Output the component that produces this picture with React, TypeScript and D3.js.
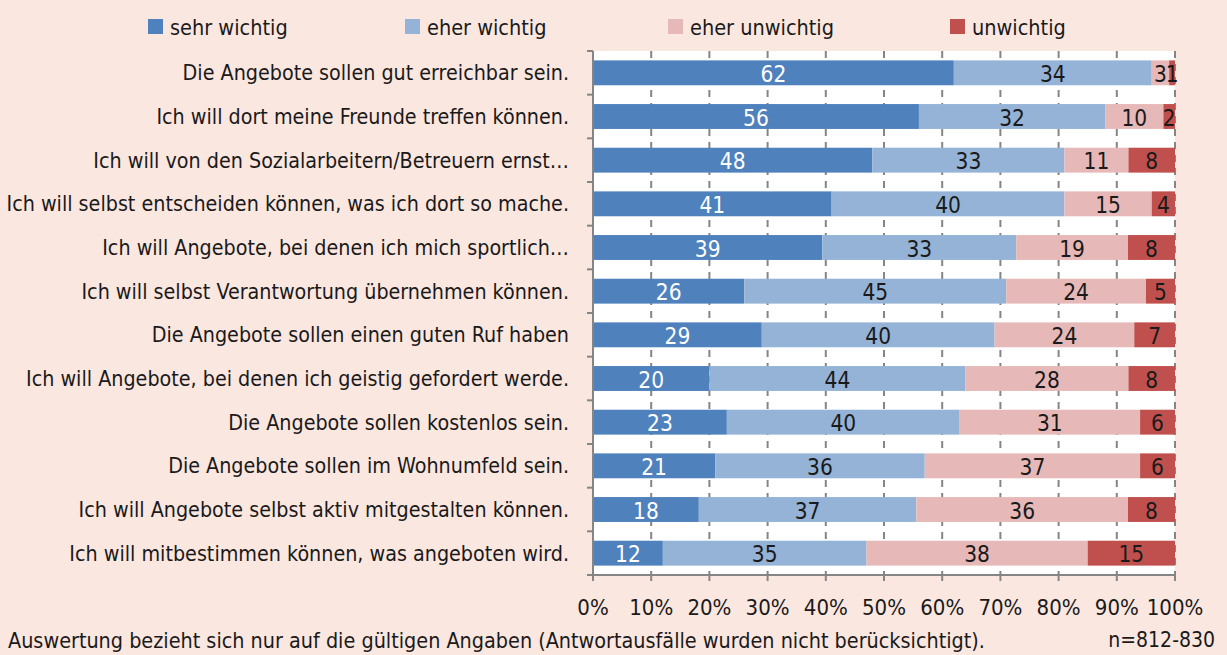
import React from "react";
import * as d3 from "d3";

const categories = [
  "Die Angebote sollen gut erreichbar sein.",
  "Ich will dort meine Freunde treffen können.",
  "Ich will von den Sozialarbeitern/Betreuern ernst…",
  "Ich will selbst entscheiden können, was ich dort so mache.",
  "Ich will Angebote, bei denen ich mich sportlich…",
  "Ich will selbst Verantwortung übernehmen können.",
  "Die Angebote sollen einen guten Ruf haben",
  "Ich will Angebote, bei denen ich geistig gefordert werde.",
  "Die Angebote sollen kostenlos sein.",
  "Die Angebote sollen im Wohnumfeld sein.",
  "Ich will Angebote selbst aktiv mitgestalten können.",
  "Ich will mitbestimmen können, was angeboten wird.",
];

const seriesNames = ["sehr wichtig", "eher wichtig", "eher unwichtig", "unwichtig"];
const sehrWichtig = [62, 56, 48, 41, 39, 26, 29, 20, 23, 21, 18, 12];
const eherWichtig = [34, 32, 33, 40, 33, 45, 40, 44, 40, 36, 37, 35];
const eherUnwichtig = [3, 10, 11, 15, 19, 24, 24, 28, 31, 37, 36, 38];
const unwichtig = [1, 2, 8, 4, 8, 5, 7, 8, 6, 6, 8, 15];
const xTicks = [0, 10, 20, 30, 40, 50, 60, 70, 80, 90, 100];

const colors = ["#4F81BD", "#95B3D7", "#E6B9B8", "#C0504D"];
const labelColors = ["#ffffff", "#1a1a1a", "#1a1a1a", "#1a1a1a"];
const FONT = "'DejaVu Sans Condensed', 'Liberation Sans Narrow', 'Roboto', sans-serif";

export default function App() {
  const W = 1227, H = 655;
  const left = 593, right = 1175, top = 51, bottom = 575;
  const seriesValues = [sehrWichtig, eherWichtig, eherUnwichtig, unwichtig];

  const x = d3.scaleLinear().domain([0, 100]).range([left, right]);
  const y = d3.scaleBand<string>().domain(categories).range([top, bottom]).paddingInner(0.43).paddingOuter(0.215);
  const step = y.step();

  const rows = categories.map((c, i) => {
    const vals = seriesValues.map((s) => s[i]);
    const total = d3.sum(vals);
    let acc = 0;
    return vals.map((v, k) => {
      const x0 = (acc / total) * 100;
      acc += v;
      const x1 = (acc / total) * 100;
      return { c, k, v, x0, x1 };
    });
  });

  const legendX = [148, 405, 668, 950];

  return (
    <svg width={W} height={H} style={{ position: "fixed", left: 0, top: 0, fontFamily: FONT }}>
      <rect x={0} y={0} width={W} height={H} fill="#FAE7E0" />
      {/* legend */}
      {seriesNames.map((n, k) => (
        <g key={n}>
          <rect x={legendX[k]} y={19} width={15} height={15} fill={colors[k]} />
          <text x={legendX[k] + 22} y={27} dominantBaseline="central" fontSize={21.5} fill="#1a1a1a">{n}</text>
        </g>
      ))}
      {/* plot background */}
      <rect x={left} y={top} width={right - left} height={bottom - top} fill="#ffffff" />
      {/* grid */}
      {xTicks.slice(1).map((t) => (
        <line key={t} x1={x(t)} x2={x(t)} y1={top} y2={bottom} stroke="#858585" strokeWidth={2} strokeDasharray="7,6" />
      ))}
      {/* bars */}
      {rows.map((segs, i) => (
        <g key={i}>
          {segs.map((s) => (
            <rect key={s.k} x={x(s.x0)} y={y(s.c)!} width={x(s.x1) - x(s.x0)} height={y.bandwidth()} fill={colors[s.k]} />
          ))}
          {segs.map((s) => (
            <text key={"t" + s.k} x={(x(s.x0) + x(s.x1)) / 2} y={y(s.c)! + y.bandwidth() / 2 + 1} textAnchor="middle" dominantBaseline="central" fontSize={22.5} fill={labelColors[s.k]}>
              {s.v}
            </text>
          ))}
          <text x={569} y={y(segs[0].c)! + y.bandwidth() / 2} textAnchor="end" dominantBaseline="central" fontSize={21.3} fill="#1a1a1a">
            {segs[0].c}
          </text>
        </g>
      ))}
      {/* left axis */}
      <line x1={left} x2={left} y1={top} y2={bottom} stroke="#858585" strokeWidth={2} />
      {d3.range(categories.length + 1).map((i) => (
        <line key={i} x1={left - 6} x2={left} y1={top + i * step} y2={top + i * step} stroke="#858585" strokeWidth={2} />
      ))}
      {/* bottom axis */}
      <line x1={left} x2={right} y1={bottom} y2={bottom} stroke="#858585" strokeWidth={2} />
      {xTicks.map((t) => (
        <g key={t}>
          <line x1={x(t)} x2={x(t)} y1={bottom} y2={bottom + 6} stroke="#858585" strokeWidth={2} />
          <text x={x(t)} y={607} textAnchor="middle" dominantBaseline="central" fontSize={22} fill="#1a1a1a">{t}%</text>
        </g>
      ))}
      {/* footer */}
      <text x={8} y={640} dominantBaseline="central" fontSize={21.4} fill="#1a1a1a">
        Auswertung bezieht sich nur auf die gültigen Angaben (Antwortausfälle wurden nicht berücksichtigt).
      </text>
      <text x={1215} y={640} textAnchor="end" dominantBaseline="central" fontSize={21} fill="#1a1a1a">n=812-830</text>
    </svg>
  );
}
